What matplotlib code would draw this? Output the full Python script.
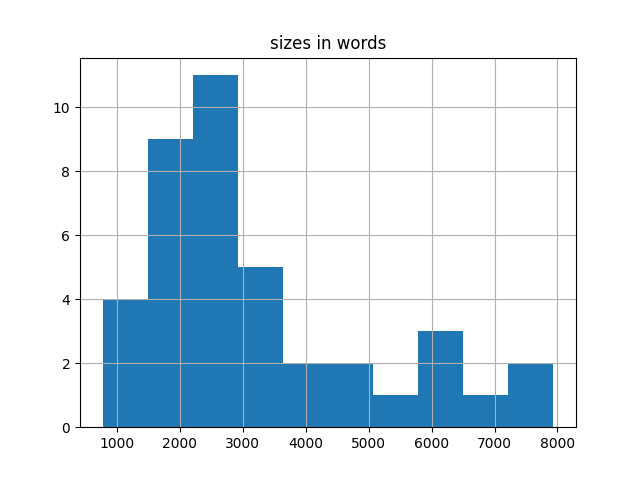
import matplotlib
matplotlib.use("Agg")
import matplotlib.pyplot as plt
import numpy as np

# histogram: 10 equal bins
bin_lo = 777
bin_hi = 7936
counts = [4, 9, 11, 5, 2, 2, 1, 3, 1, 2]

edges = np.linspace(bin_lo, bin_hi, len(counts) + 1)
centers = (edges[:-1] + edges[1:]) / 2

fig, ax = plt.subplots(figsize=(6.4, 4.8), dpi=100)
ax.hist(centers, bins=edges, weights=counts, color="#1f77b4")
ax.grid(True)
ax.set_title("sizes in words")
fig.savefig("out.png")
